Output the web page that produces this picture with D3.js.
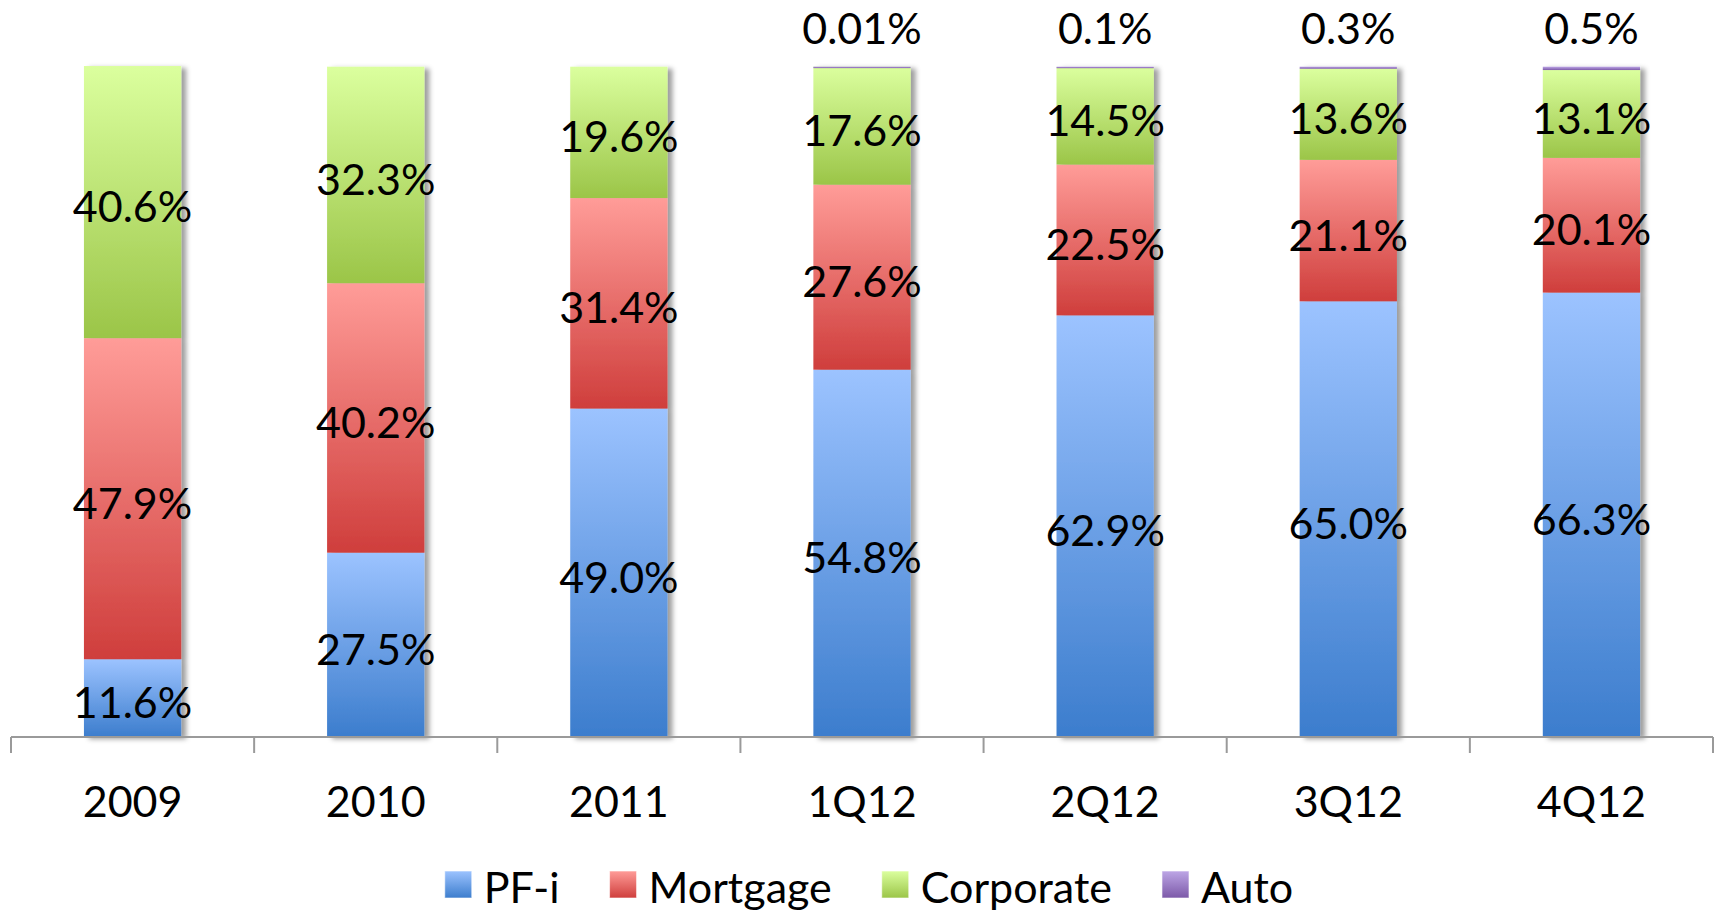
<!DOCTYPE html>
<html>
<head>
<meta charset="utf-8">
<script src="https://cdn.jsdelivr.net/npm/d3@7"></script>
<style>
  html, body { margin: 0; padding: 0; background: #fff; }
  svg { display: block; font-family: Lato, "Open Sans", sans-serif; }
</style>
</head>
<body>
<svg id="canvas" width="1723" height="911"></svg>
<script>
const categories = ["2009", "2010", "2011", "1Q12", "2Q12", "3Q12", "4Q12"];
const seriesNames = ["PF-i", "Mortgage", "Corporate", "Auto"];

const pfi = [11.6, 27.5, 49.0, 54.8, 62.9, 65.0, 66.3];
const mortgage = [47.9, 40.2, 31.4, 27.6, 22.5, 21.1, 20.1];
const corporate = [40.6, 32.3, 19.6, 17.6, 14.5, 13.6, 13.1];
const auto = [0, 0, 0, 0.01, 0.1, 0.3, 0.5];

const width = 1723;
const height = 911;
const fontSize = 43;

const svg = d3.select("#canvas");

// colours: [top, bottom] of each gradient
const colors = {
    "PF-i": ["#9cc3ff", "#3c7dcd"],
    "Mortgage": ["#ff9c98", "#cf3e3c"],
    "Corporate": ["#dbff9e", "#9bc548"],
    "Auto": ["#bda6e6", "#7c59a8"]
};

const defs = svg.append("defs");
seriesNames.forEach((name, i) => {
    const g = defs.append("linearGradient")
        .attr("id", "grad" + i)
        .attr("x1", 0).attr("y1", 0).attr("x2", 0).attr("y2", 1);
    g.append("stop").attr("offset", "0%").attr("stop-color", colors[name][0]);
    g.append("stop").attr("offset", "100%").attr("stop-color", colors[name][1]);
});

const shadow = defs.append("filter")
    .attr("id", "shadow")
    .attr("x", "-20%").attr("y", "-5%")
    .attr("width", "150%").attr("height", "110%");
shadow.append("feDropShadow")
    .attr("dx", 5).attr("dy", 2)
    .attr("stdDeviation", 2.5)
    .attr("flood-color", "#000")
    .attr("flood-opacity", 0.38);

// table for the stack
const rows = categories.map((c, i) => ({
    cat: c,
    "PF-i": pfi[i],
    "Mortgage": mortgage[i],
    "Corporate": corporate[i],
    "Auto": auto[i]
}));

const stacked = d3.stack().keys(seriesNames)(rows);

const x = d3.scaleBand()
    .domain(categories)
    .range([11, 1713])
    .paddingInner(0.6)
    .paddingOuter(0.3);

const y = d3.scaleLinear()
    .domain([0, 100])
    .range([737, 66.7]);

// bars, one group per category so the shadow falls on the whole column
const barGroups = svg.append("g")
    .selectAll("g")
    .data(categories)
    .join("g")
    .attr("filter", "url(#shadow)");

barGroups.each(function(cat, ci) {
    const g = d3.select(this);
    stacked.forEach((layer, si) => {
        const d = layer[ci];
        if (d[1] - d[0] <= 0) return;
        g.append("rect")
            .attr("x", x(cat))
            .attr("width", x.bandwidth())
            .attr("y", y(d[1]))
            .attr("height", Math.max(1.5, y(d[0]) - y(d[1])))
            .attr("fill", `url(#grad${si})`);
    });
});

// x axis
const axisY = y(0);
const axis = svg.append("g");
axis.append("line")
    .attr("x1", x.range()[0]).attr("x2", x.range()[1])
    .attr("y1", axisY).attr("y2", axisY)
    .attr("stroke", "#9a9a9a")
    .attr("stroke-width", 2);

// ticks sit between the categories
const tickXs = d3.range(categories.length + 1).map(i => x.range()[0] + i * x.step());

axis.selectAll("line.tick")
    .data(tickXs)
    .join("line")
    .attr("class", "tick")
    .attr("x1", d => d).attr("x2", d => d)
    .attr("y1", axisY).attr("y2", axisY + 16)
    .attr("stroke", "#9a9a9a")
    .attr("stroke-width", 2);

axis.selectAll("text")
    .data(categories)
    .join("text")
    .attr("x", d => x(d) + x.bandwidth() / 2)
    .attr("y", 817)
    .attr("text-anchor", "middle")
    .attr("font-size", fontSize)
    .attr("fill", "#000")
    .text(d => d);

// data labels
const labels = svg.append("g");
stacked.slice(0, 3).forEach(layer => {
    layer.forEach((d, ci) => {
        const cx = x(categories[ci]) + x.bandwidth() / 2;
        const cy = (y(d[0]) + y(d[1])) / 2;
        labels.append("text")
            .attr("x", cx)
            .attr("y", cy + 20)
            .attr("text-anchor", "middle")
            .attr("font-size", fontSize)
            .attr("fill", "#000")
            .text((d[1] - d[0]).toFixed(1) + "%");
    });
});

stacked[3].forEach((d, ci) => {
    const v = auto[ci];
    if (!v) return;
    labels.append("text")
        .attr("x", x(categories[ci]) + x.bandwidth() / 2)
        .attr("y", y(d[1]) - 23)
        .attr("text-anchor", "middle")
        .attr("font-size", fontSize)
        .attr("fill", "#000")
        .text(v + "%");
});

// legend
const legend = svg.append("g");
let lx = 0;
seriesNames.forEach((name, i) => {
    const item = legend.append("g").attr("transform", `translate(${lx},0)`);
    item.append("rect")
        .attr("x", 0).attr("y", 871)
        .attr("width", 27).attr("height", 27)
        .attr("fill", `url(#grad${i})`)
        .attr("stroke", "#ffffff")
        .attr("stroke-opacity", 0.6)
        .attr("stroke-width", 1);
    const t = item.append("text")
        .attr("x", 39)
        .attr("y", 903)
        .attr("font-size", fontSize)
        .attr("fill", "#000")
        .text(name);
    lx += 39 + t.node().getComputedTextLength() + 50;
});
const legendW = lx - 50;
legend.attr("transform", `translate(${869 - legendW / 2},0)`);
</script>
</body>
</html>
